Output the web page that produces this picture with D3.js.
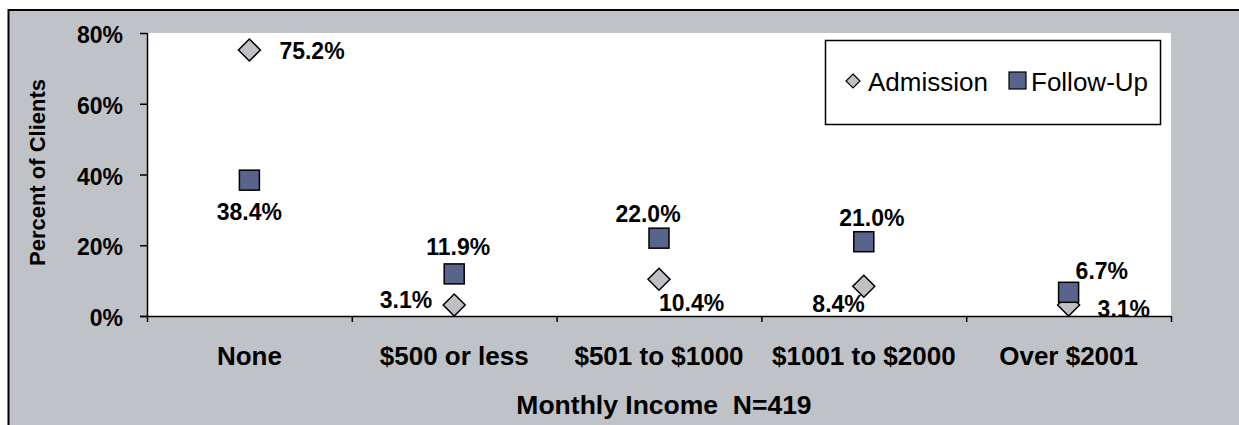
<!DOCTYPE html>
<html>
<head>
<meta charset="utf-8">
<script src="https://cdn.jsdelivr.net/npm/d3@7"></script>
<style>
  body { margin: 0; background: #fff; }
  svg { display: block; font-family: "Liberation Sans", Arial, sans-serif; }
</style>
</head>
<body>
<div id="chart"></div>
<script>
// data
const categories = ['None', '$500 or less', '$501 to $1000', '$1001 to $2000', 'Over $2001'];
const admission = [75.2, 3.1, 10.4, 8.4, 3.1];
const followUp = [38.4, 11.9, 22.0, 21.0, 6.7];
const yTicks = [0, 20, 40, 60, 80];

// where each data label sits relative to its marker (dx, dy, anchor)
const admLabelPos = [[30, 9, 'start'], [-22, 3, 'end'], [0, 32, 'start'], [1, 26, 'end'], [29, 12, 'start']];
const fupLabelPos = [[0, 40, 'middle'], [4, -19, 'middle'], [-11, -16, 'middle'], [8, -16, 'middle'], [7, -13, 'start']];

const W = 1239, H = 425;
const plot = { left: 147, right: 1171, top: 33, bottom: 316 };

const svg = d3.select('#chart').append('svg')
    .attr('width', W)
    .attr('height', H);

// outer frame
svg.append('rect')
    .attr('x', 8.5).attr('y', 10)
    .attr('width', W + 10).attr('height', H + 10)
    .attr('fill', '#bfc2c7')
    .attr('stroke', '#000')
    .attr('stroke-width', 2);

// plot area
svg.append('rect')
    .attr('x', plot.left).attr('y', plot.top)
    .attr('width', plot.right - plot.left).attr('height', plot.bottom - plot.top)
    .attr('fill', '#fff');

svg.append('clipPath').attr('id', 'plot-clip')
    .append('rect')
    .attr('x', plot.left).attr('y', plot.top - 20)
    .attr('width', plot.right - plot.left + 10).attr('height', plot.bottom - plot.top + 20);

const xBand = d3.scaleBand()
    .domain(categories)
    .range([plot.left, plot.right])
    .padding(0);

const xEdge = d3.scaleLinear()
    .domain([0, categories.length])
    .range([plot.left, plot.right]);

const y = d3.scaleLinear()
    .domain([0, 80])
    .range([plot.bottom, plot.top]);

const cx = d => xBand(d) + xBand.bandwidth() / 2;

// y axis
const yAxis = svg.append('g')
    .attr('transform', `translate(${plot.left},0)`)
    .call(d3.axisLeft(y).tickValues(yTicks).tickSize(7).tickPadding(17).tickFormat(d => d + '%'));
yAxis.select('.domain').attr('stroke', '#000').attr('stroke-width', 1.5).attr('d', `M0.5,${plot.top}V${plot.bottom}`);
yAxis.selectAll('.tick line').attr('stroke', '#000').attr('stroke-width', 1.5);
yAxis.selectAll('.tick text')
    .attr('dy', '0.42em')
    .style('font-family', '"Liberation Sans", Arial, sans-serif')
    .style('font-size', '23px')
    .style('font-weight', 'bold')
    .attr('fill', '#000');

// x axis: boundary ticks
const xAxis = svg.append('g')
    .attr('transform', `translate(0,${plot.bottom})`)
    .call(d3.axisBottom(xEdge).tickValues(d3.range(categories.length + 1)).tickSize(6).tickFormat(''));
xAxis.select('.domain').attr('stroke', '#000').attr('stroke-width', 1.5).attr('d', `M${plot.left - 7},0.5H${plot.right}`);
xAxis.selectAll('.tick line').attr('stroke', '#000').attr('stroke-width', 1.5);

// category labels
const xLab = svg.append('g')
    .attr('transform', `translate(0,${plot.bottom})`)
    .call(d3.axisBottom(xBand).tickSize(0).tickPadding(31));
xLab.select('.domain').remove();
xLab.selectAll('.tick text')
    .style('font-family', '"Liberation Sans", Arial, sans-serif')
    .style('font-size', '26px')
    .style('font-weight', 'bold')
    .attr('fill', '#000');

// axis titles
svg.append('text')
    .attr('transform', `translate(45,${(plot.top + plot.bottom) / 2 - 2}) rotate(-90)`)
    .attr('text-anchor', 'middle')
    .style('font-size', '22px')
    .style('font-weight', 'bold')
    .text('Percent of Clients');

svg.append('text')
    .attr('x', 664)
    .attr('y', 414)
    .attr('text-anchor', 'middle')
    .style('font-size', '26.5px')
    .style('font-weight', 'bold')
    .attr('xml:space', 'preserve')
    .text('Monthly Income  N=419');

// markers
const diamond = s => `M0,${-s}L${s},0L0,${s}L${-s},0Z`;
const marks = svg.append('g').attr('clip-path', 'url(#plot-clip)');

marks.selectAll('path.adm')
    .data(admission)
    .join('path')
    .attr('class', 'adm')
    .attr('transform', (d, i) => `translate(${cx(categories[i])},${y(d)})`)
    .attr('d', diamond(11))
    .attr('fill', '#c0c0c4')
    .attr('stroke', '#000')
    .attr('stroke-width', 1.5);

marks.selectAll('rect.fup')
    .data(followUp)
    .join('rect')
    .attr('class', 'fup')
    .attr('x', (d, i) => cx(categories[i]) - 10)
    .attr('y', d => y(d) - 10)
    .attr('width', 20)
    .attr('height', 20)
    .attr('fill', '#59648c')
    .attr('stroke', '#000')
    .attr('stroke-width', 1.5);

// data labels
const labels = svg.append('g').attr('clip-path', 'url(#plot-clip)')
    .style('font-size', '23px')
    .style('font-weight', 'bold');

labels.selectAll('text.adm')
    .data(admission)
    .join('text')
    .attr('class', 'adm')
    .attr('x', (d, i) => cx(categories[i]) + admLabelPos[i][0])
    .attr('y', (d, i) => y(d) + admLabelPos[i][1])
    .attr('text-anchor', (d, i) => admLabelPos[i][2])
    .text(d => d.toFixed(1) + '%');

labels.selectAll('text.fup')
    .data(followUp)
    .join('text')
    .attr('class', 'fup')
    .attr('x', (d, i) => cx(categories[i]) + fupLabelPos[i][0])
    .attr('y', (d, i) => y(d) + fupLabelPos[i][1])
    .attr('text-anchor', (d, i) => fupLabelPos[i][2])
    .text(d => d.toFixed(1) + '%');

// legend
const legend = svg.append('g');
legend.append('rect')
    .attr('x', 825.5).attr('y', 40.5)
    .attr('width', 335).attr('height', 84)
    .attr('fill', '#fff')
    .attr('stroke', '#000')
    .attr('stroke-width', 1.5);

legend.append('path')
    .attr('transform', 'translate(853,81)')
    .attr('d', diamond(7))
    .attr('fill', '#c0c0c4')
    .attr('stroke', '#000')
    .attr('stroke-width', 1.2);
legend.append('text')
    .attr('x', 868).attr('y', 91)
    .style('font-size', '26px')
    .text('Admission');

legend.append('rect')
    .attr('x', 1009).attr('y', 72)
    .attr('width', 17).attr('height', 17)
    .attr('fill', '#59648c')
    .attr('stroke', '#000')
    .attr('stroke-width', 1.2);
legend.append('text')
    .attr('x', 1031).attr('y', 91)
    .style('font-size', '26px')
    .text('Follow-Up');
</script>
</body>
</html>
